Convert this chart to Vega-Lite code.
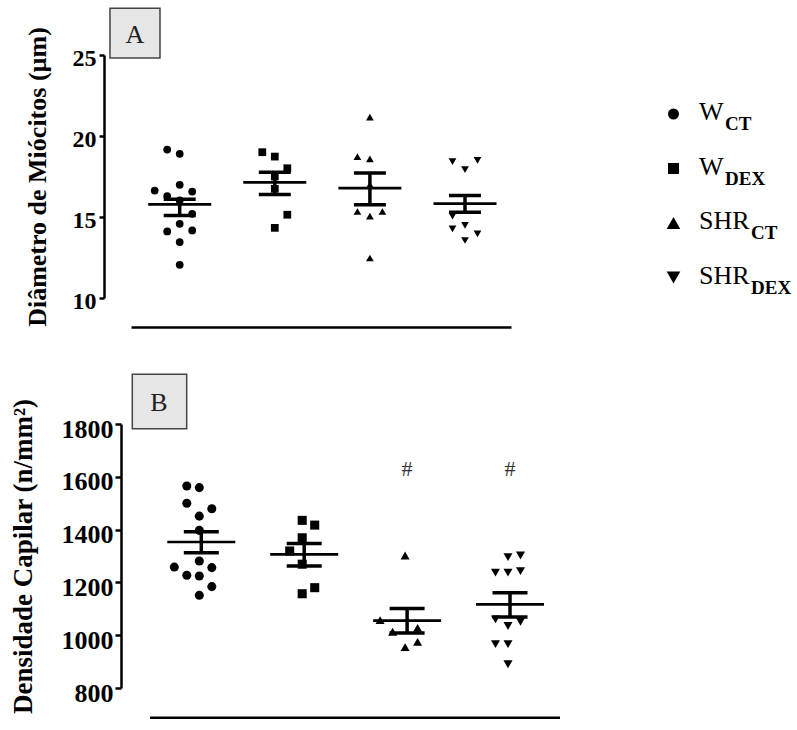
{
  "$schema": "https://vega.github.io/schema/vega-lite/v6.json",
  "padding": {"left": 8, "top": 7, "right": 0, "bottom": 0},
  "background": "white",
  "config": {"view": {"stroke": null}, "font": "Liberation Serif"},
  "datasets": {
    "ptsA": [
      {"group": "WCT", "value": 19.16, "col": -1},
      {"group": "WCT", "value": 18.90, "col": 0},
      {"group": "WCT", "value": 16.63, "col": -2},
      {"group": "WCT", "value": 16.99, "col": 0},
      {"group": "WCT", "value": 16.57, "col": 1},
      {"group": "WCT", "value": 16.29, "col": -1},
      {"group": "WCT", "value": 16.02, "col": 0},
      {"group": "WCT", "value": 15.20, "col": 1},
      {"group": "WCT", "value": 14.58, "col": 0},
      {"group": "WCT", "value": 14.11, "col": -1},
      {"group": "WCT", "value": 14.17, "col": 1},
      {"group": "WCT", "value": 13.45, "col": 0},
      {"group": "WCT", "value": 12.05, "col": 0},
      {"group": "WDEX", "value": 19.00, "col": -1},
      {"group": "WDEX", "value": 18.73, "col": 0},
      {"group": "WDEX", "value": 18.01, "col": 1},
      {"group": "WDEX", "value": 17.50, "col": 0},
      {"group": "WDEX", "value": 16.74, "col": 0},
      {"group": "WDEX", "value": 15.14, "col": 1},
      {"group": "WDEX", "value": 14.33, "col": 0},
      {"group": "SHRCT", "value": 21.16, "col": 0},
      {"group": "SHRCT", "value": 18.73, "col": -1},
      {"group": "SHRCT", "value": 18.59, "col": 0},
      {"group": "SHRCT", "value": 16.99, "col": 0},
      {"group": "SHRCT", "value": 15.34, "col": -1},
      {"group": "SHRCT", "value": 15.06, "col": 0},
      {"group": "SHRCT", "value": 15.34, "col": 1},
      {"group": "SHRCT", "value": 12.47, "col": 0},
      {"group": "SHRDEX", "value": 18.42, "col": -1},
      {"group": "SHRDEX", "value": 18.49, "col": 1},
      {"group": "SHRDEX", "value": 17.93, "col": 0},
      {"group": "SHRDEX", "value": 15.05, "col": -1},
      {"group": "SHRDEX", "value": 14.27, "col": -1},
      {"group": "SHRDEX", "value": 14.48, "col": 0},
      {"group": "SHRDEX", "value": 13.96, "col": 1},
      {"group": "SHRDEX", "value": 13.55, "col": 0}
    ],
    "sumA": [
      {"group": "WCT", "mean": 15.78, "lo": 15.10, "hi": 16.10},
      {"group": "WDEX", "mean": 17.14, "lo": 16.39, "hi": 17.77},
      {"group": "SHRCT", "mean": 16.78, "lo": 15.75, "hi": 17.72},
      {"group": "SHRDEX", "mean": 15.82, "lo": 15.30, "hi": 16.33}
    ],
    "ptsB": [
      {"group": "WCT", "value": 1565, "col": -1},
      {"group": "WCT", "value": 1559, "col": 0},
      {"group": "WCT", "value": 1500, "col": -1},
      {"group": "WCT", "value": 1479, "col": 1},
      {"group": "WCT", "value": 1451, "col": 0},
      {"group": "WCT", "value": 1397, "col": 0},
      {"group": "WCT", "value": 1281, "col": 0},
      {"group": "WCT", "value": 1258, "col": -2},
      {"group": "WCT", "value": 1256, "col": 1},
      {"group": "WCT", "value": 1227, "col": -1},
      {"group": "WCT", "value": 1224, "col": 0},
      {"group": "WCT", "value": 1184, "col": 1},
      {"group": "WCT", "value": 1151, "col": 0},
      {"group": "WDEX", "value": 1435, "col": 0},
      {"group": "WDEX", "value": 1417, "col": 1},
      {"group": "WDEX", "value": 1369, "col": 0},
      {"group": "WDEX", "value": 1319, "col": -1},
      {"group": "WDEX", "value": 1269, "col": 0},
      {"group": "WDEX", "value": 1180, "col": 1},
      {"group": "WDEX", "value": 1157, "col": 0},
      {"group": "SHRCT", "value": 1302, "col": 0},
      {"group": "SHRCT", "value": 1057, "col": -2},
      {"group": "SHRCT", "value": 1013, "col": -1},
      {"group": "SHRCT", "value": 1028, "col": 1},
      {"group": "SHRCT", "value": 955, "col": 0},
      {"group": "SHRCT", "value": 975, "col": 1},
      {"group": "SHRDEX", "value": 1296, "col": 0},
      {"group": "SHRDEX", "value": 1302, "col": 1},
      {"group": "SHRDEX", "value": 1237, "col": -1},
      {"group": "SHRDEX", "value": 1237, "col": 0},
      {"group": "SHRDEX", "value": 1243, "col": 1},
      {"group": "SHRDEX", "value": 1060, "col": -1},
      {"group": "SHRDEX", "value": 1035, "col": 0},
      {"group": "SHRDEX", "value": 1051, "col": 1},
      {"group": "SHRDEX", "value": 966, "col": -1},
      {"group": "SHRDEX", "value": 966, "col": 0},
      {"group": "SHRDEX", "value": 890, "col": 0}
    ],
    "sumB": [
      {"group": "WCT", "mean": 1353, "lo": 1312, "hi": 1392, "sig": ""},
      {"group": "WDEX", "mean": 1306, "lo": 1262, "hi": 1347, "sig": ""},
      {"group": "SHRCT", "mean": 1055, "lo": 1008, "hi": 1101, "sig": "#"},
      {"group": "SHRDEX", "mean": 1117, "lo": 1069, "hi": 1161, "sig": "#"}
    ],
    "legend": [
      {"order": 1, "group": "WCT", "main": "W", "sub": "CT"},
      {"order": 2, "group": "WDEX", "main": "W", "sub": "DEX"},
      {"order": 3, "group": "SHRCT", "main": "SHR", "sub": "CT"},
      {"order": 4, "group": "SHRDEX", "main": "SHR", "sub": "DEX"}
    ]
  },
  "spacing": 46,
  "vconcat": [
    {
      "width": 380,
      "height": 243,
      "layer": [
        {
          "layer": [
            {
              "data": {"name": "ptsA"},
              "mark": {"type": "point", "filled": true, "color": "#000", "opacity": 1, "size": 60, "strokeWidth": 0},
              "encoding": {
                "x": {"field": "group", "type": "nominal", "scale": {"domain": ["WCT", "WDEX", "SHRCT", "SHRDEX"], "paddingInner": 0.3428, "paddingOuter": 0.1693, "align": 0.542}, "axis": {"orient": "bottom", "offset": 29, "domain": true, "domainColor": "#000", "domainWidth": 2.5, "ticks": false, "labels": false, "grid": false, "title": null}},
                "xOffset": {"field": "col", "type": "ordinal", "scale": {"domain": [-2, -1, 0, 1, 2]}},
                "y": {"field": "value", "type": "quantitative", "scale": {"domain": [10, 25], "nice": false, "zero": false}, "axis": {"values": [10, 15, 20, 25], "offset": 27, "tickSize": 5, "tickWidth": 2.5, "tickColor": "#000", "domainColor": "#000", "domainWidth": 2.5, "labelFont": "Liberation Serif", "labelFontSize": 24, "labelFontWeight": "bold", "labelColor": "#000", "labelPadding": 3, "labelOffset": 3, "labelFlush": false, "labelOverlap": false, "grid": false, "title": "Diâmetro de Miócitos (µm)", "titleFont": "Liberation Serif", "titleFontSize": 26, "titleFontWeight": "bold", "titleColor": "#000", "titlePadding": 22}},
                "shape": {"field": "group", "type": "nominal", "scale": {"domain": ["WCT", "WDEX", "SHRCT", "SHRDEX"], "range": ["circle", "square", "triangle-up", "triangle-down"]}, "legend": null}
              }
            },
            {
              "data": {"name": "sumA"},
              "mark": {"type": "rule", "color": "#000", "strokeWidth": 3.5},
              "encoding": {
                "x": {"field": "group", "type": "nominal", "scale": {"domain": ["WCT", "WDEX", "SHRCT", "SHRDEX"], "paddingInner": 0.3428, "paddingOuter": 0.1693, "align": 0.542}, "axis": {"orient": "bottom", "offset": 29, "domain": true, "domainColor": "#000", "domainWidth": 2.5, "ticks": false, "labels": false, "grid": false, "title": null}},
                "y": {"field": "lo", "type": "quantitative", "scale": {"domain": [10, 25], "nice": false, "zero": false}, "title": "Diâmetro de Miócitos (µm)"},
                "y2": {"field": "hi"}
              }
            },
            {
              "data": {"name": "sumA"},
              "mark": {"type": "tick", "color": "#000", "opacity": 1, "size": 63, "thickness": 2.7},
              "encoding": {
                "x": {"field": "group", "type": "nominal", "scale": {"domain": ["WCT", "WDEX", "SHRCT", "SHRDEX"], "paddingInner": 0.3428, "paddingOuter": 0.1693, "align": 0.542}, "axis": {"orient": "bottom", "offset": 29, "domain": true, "domainColor": "#000", "domainWidth": 2.5, "ticks": false, "labels": false, "grid": false, "title": null}},
                "y": {"field": "mean", "type": "quantitative", "scale": {"domain": [10, 25], "nice": false, "zero": false}, "title": "Diâmetro de Miócitos (µm)"}
              }
            },
            {
              "data": {"name": "sumA"},
              "mark": {"type": "tick", "color": "#000", "opacity": 1, "size": 32, "thickness": 3.5},
              "encoding": {
                "x": {"field": "group", "type": "nominal", "scale": {"domain": ["WCT", "WDEX", "SHRCT", "SHRDEX"], "paddingInner": 0.3428, "paddingOuter": 0.1693, "align": 0.542}, "axis": {"orient": "bottom", "offset": 29, "domain": true, "domainColor": "#000", "domainWidth": 2.5, "ticks": false, "labels": false, "grid": false, "title": null}},
                "y": {"field": "lo", "type": "quantitative", "scale": {"domain": [10, 25], "nice": false, "zero": false}, "title": "Diâmetro de Miócitos (µm)"}
              }
            },
            {
              "data": {"name": "sumA"},
              "mark": {"type": "tick", "color": "#000", "opacity": 1, "size": 32, "thickness": 3.5},
              "encoding": {
                "x": {"field": "group", "type": "nominal", "scale": {"domain": ["WCT", "WDEX", "SHRCT", "SHRDEX"], "paddingInner": 0.3428, "paddingOuter": 0.1693, "align": 0.542}, "axis": {"orient": "bottom", "offset": 29, "domain": true, "domainColor": "#000", "domainWidth": 2.5, "ticks": false, "labels": false, "grid": false, "title": null}},
                "y": {"field": "hi", "type": "quantitative", "scale": {"domain": [10, 25], "nice": false, "zero": false}, "title": "Diâmetro de Miócitos (µm)"}
              }
            }
          ]
        },
        {
          "data": {"values": [{"panel": "A"}]},
          "layer": [
            {
              "mark": {"type": "rect", "fill": "#e6e6e6", "stroke": "#444", "strokeWidth": 1.5},
              "encoding": {
                "x": {"datum": -0.0553, "type": "quantitative", "scale": {"domain": [0, 1], "nice": false, "zero": false}, "axis": null},
                "x2": {"datum": 0.0763},
                "y": {"datum": 27.88, "type": "quantitative", "scale": {"domain": [10, 25], "nice": false, "zero": false}, "axis": null},
                "y2": {"datum": 24.82}
              }
            },
            {
              "mark": {"type": "text", "font": "Liberation Serif", "fontSize": 26, "color": "#222", "align": "center", "baseline": "middle"},
              "encoding": {
                "x": {"datum": 0.0105, "type": "quantitative", "scale": {"domain": [0, 1], "nice": false, "zero": false}, "axis": null},
                "y": {"datum": 26.25, "type": "quantitative", "scale": {"domain": [10, 25], "nice": false, "zero": false}, "axis": null},
                "text": {"field": "panel"}
              }
            }
          ]
        },
        {
          "data": {"name": "legend"},
          "layer": [
            {
              "transform": [{"filter": "datum.main == 'W'"}],
              "mark": {"type": "point", "filled": true, "color": "#000", "opacity": 1, "size": 121, "strokeWidth": 0},
              "encoding": {
                "x": {"datum": 1.4276, "type": "quantitative", "scale": {"domain": [0, 1], "nice": false, "zero": false}, "axis": null},
                "y": {"field": "order", "type": "quantitative", "scale": {"domain": [-0.0826, 4.376], "reverse": true, "nice": false, "zero": false}, "axis": null},
                "shape": {"field": "group", "type": "nominal", "scale": {"domain": ["WCT", "WDEX", "SHRCT", "SHRDEX"], "range": ["circle", "square", "triangle-up", "triangle-down"]}, "legend": null}
              }
            },
            {
              "transform": [{"filter": "datum.main == 'SHR'"}],
              "mark": {"type": "point", "filled": true, "color": "#000", "opacity": 1, "size": 185, "strokeWidth": 0},
              "encoding": {
                "x": {"datum": 1.4276, "type": "quantitative", "scale": {"domain": [0, 1], "nice": false, "zero": false}, "axis": null},
                "y": {"field": "order", "type": "quantitative", "scale": {"domain": [-0.0826, 4.376], "reverse": true, "nice": false, "zero": false}, "axis": null},
                "shape": {"field": "group", "type": "nominal", "scale": {"domain": ["WCT", "WDEX", "SHRCT", "SHRDEX"], "range": ["circle", "square", "triangle-up", "triangle-down"]}, "legend": null}
              }
            },
            {
              "mark": {"type": "text", "font": "Liberation Serif", "fontSize": 26, "color": "#000", "align": "left", "baseline": "middle", "dy": -2},
              "encoding": {
                "x": {"datum": 1.4947, "type": "quantitative", "scale": {"domain": [0, 1], "nice": false, "zero": false}, "axis": null},
                "y": {"field": "order", "type": "quantitative", "scale": {"domain": [-0.0826, 4.376], "reverse": true, "nice": false, "zero": false}, "axis": null},
                "text": {"field": "main"}
              }
            },
            {
              "transform": [{"filter": "datum.main == 'W'"}],
              "mark": {"type": "text", "font": "Liberation Serif", "fontSize": 19, "fontWeight": "bold", "color": "#000", "align": "left", "baseline": "middle", "dy": 10},
              "encoding": {
                "x": {"datum": 1.5632, "type": "quantitative", "scale": {"domain": [0, 1], "nice": false, "zero": false}, "axis": null},
                "y": {"field": "order", "type": "quantitative", "scale": {"domain": [-0.0826, 4.376], "reverse": true, "nice": false, "zero": false}, "axis": null},
                "text": {"field": "sub"}
              }
            },
            {
              "transform": [{"filter": "datum.main == 'SHR'"}],
              "mark": {"type": "text", "font": "Liberation Serif", "fontSize": 19, "fontWeight": "bold", "color": "#000", "align": "left", "baseline": "middle", "dy": 10},
              "encoding": {
                "x": {"datum": 1.6316, "type": "quantitative", "scale": {"domain": [0, 1], "nice": false, "zero": false}, "axis": null},
                "y": {"field": "order", "type": "quantitative", "scale": {"domain": [-0.0826, 4.376], "reverse": true, "nice": false, "zero": false}, "axis": null},
                "text": {"field": "sub"}
              }
            }
          ]
        }
      ],
      "resolve": {"scale": {"x": "independent", "y": "independent"}, "axis": {"x": "independent", "y": "independent"}}
    },
    {
      "width": 429,
      "height": 264,
      "layer": [
        {
          "layer": [
            {
              "data": {"name": "ptsB"},
              "mark": {"type": "point", "filled": true, "color": "#000", "opacity": 1, "size": 82, "strokeWidth": 0},
              "encoding": {
                "x": {"field": "group", "type": "nominal", "scale": {"domain": ["WCT", "WDEX", "SHRCT", "SHRDEX"], "paddingInner": 0.3537, "paddingOuter": 0.2614, "align": 0.6887}, "axis": null},
                "xOffset": {"field": "col", "type": "ordinal", "scale": {"domain": [-2, -1, 0, 1, 2]}},
                "y": {"field": "value", "type": "quantitative", "scale": {"domain": [800, 1800], "nice": false, "zero": false}, "axis": {"values": [800, 1000, 1200, 1400, 1600, 1800], "format": "d", "offset": 10, "tickSize": 6, "tickWidth": 2.5, "tickColor": "#000", "domainColor": "#000", "domainWidth": 2.5, "labelFont": "Liberation Serif", "labelFontSize": 26, "labelFontWeight": "bold", "labelColor": "#000", "labelPadding": 2, "labelOffset": 5, "labelFlush": false, "labelOverlap": false, "grid": false, "title": "Densidade Capilar (n/mm²)", "titleFont": "Liberation Serif", "titleFontSize": 27, "titleFontWeight": "bold", "titleColor": "#000", "titlePadding": 24}},
                "shape": {"field": "group", "type": "nominal", "scale": {"domain": ["WCT", "WDEX", "SHRCT", "SHRDEX"], "range": ["circle", "square", "triangle-up", "triangle-down"]}, "legend": null}
              }
            },
            {
              "data": {"name": "sumB"},
              "mark": {"type": "rule", "color": "#000", "strokeWidth": 3.5},
              "encoding": {
                "x": {"field": "group", "type": "nominal", "scale": {"domain": ["WCT", "WDEX", "SHRCT", "SHRDEX"], "paddingInner": 0.3537, "paddingOuter": 0.2614, "align": 0.6887}, "axis": null},
                "y": {"field": "lo", "type": "quantitative", "scale": {"domain": [800, 1800], "nice": false, "zero": false}, "title": "Densidade Capilar (n/mm²)"},
                "y2": {"field": "hi"}
              }
            },
            {
              "data": {"name": "sumB"},
              "mark": {"type": "tick", "color": "#000", "opacity": 1, "size": 68, "thickness": 2.7},
              "encoding": {
                "x": {"field": "group", "type": "nominal", "scale": {"domain": ["WCT", "WDEX", "SHRCT", "SHRDEX"], "paddingInner": 0.3537, "paddingOuter": 0.2614, "align": 0.6887}, "axis": null},
                "y": {"field": "mean", "type": "quantitative", "scale": {"domain": [800, 1800], "nice": false, "zero": false}, "title": "Densidade Capilar (n/mm²)"}
              }
            },
            {
              "data": {"name": "sumB"},
              "mark": {"type": "tick", "color": "#000", "opacity": 1, "size": 35, "thickness": 3.5},
              "encoding": {
                "x": {"field": "group", "type": "nominal", "scale": {"domain": ["WCT", "WDEX", "SHRCT", "SHRDEX"], "paddingInner": 0.3537, "paddingOuter": 0.2614, "align": 0.6887}, "axis": null},
                "y": {"field": "lo", "type": "quantitative", "scale": {"domain": [800, 1800], "nice": false, "zero": false}, "title": "Densidade Capilar (n/mm²)"}
              }
            },
            {
              "data": {"name": "sumB"},
              "mark": {"type": "tick", "color": "#000", "opacity": 1, "size": 35, "thickness": 3.5},
              "encoding": {
                "x": {"field": "group", "type": "nominal", "scale": {"domain": ["WCT", "WDEX", "SHRCT", "SHRDEX"], "paddingInner": 0.3537, "paddingOuter": 0.2614, "align": 0.6887}, "axis": null},
                "y": {"field": "hi", "type": "quantitative", "scale": {"domain": [800, 1800], "nice": false, "zero": false}, "title": "Densidade Capilar (n/mm²)"}
              }
            },
            {
              "data": {"name": "sumB"},
              "transform": [{"filter": "datum.sig != ''"}],
              "mark": {"type": "text", "font": "Liberation Serif", "fontSize": 22, "color": "#333", "align": "center", "baseline": "middle"},
              "encoding": {
                "x": {"field": "group", "type": "nominal", "scale": {"domain": ["WCT", "WDEX", "SHRCT", "SHRDEX"], "paddingInner": 0.3537, "paddingOuter": 0.2614, "align": 0.6887}, "axis": null},
                "y": {"datum": 1628, "type": "quantitative", "scale": {"domain": [800, 1800], "nice": false, "zero": false}, "title": "Densidade Capilar (n/mm²)"},
                "text": {"field": "sig"}
              }
            }
          ]
        },
        {
          "data": {"values": [{"panel": "B"}]},
          "layer": [
            {
              "mark": {"type": "rect", "fill": "#e6e6e6", "stroke": "#444", "strokeWidth": 1.5},
              "encoding": {
                "x": {"datum": 0.003, "type": "quantitative", "scale": {"domain": [0, 1], "nice": false, "zero": false}, "axis": null},
                "x2": {"datum": 0.1298},
                "y": {"datum": 1988, "type": "quantitative", "scale": {"domain": [800, 1800], "nice": false, "zero": false}, "axis": null},
                "y2": {"datum": 1782}
              }
            },
            {
              "mark": {"type": "text", "font": "Liberation Serif", "fontSize": 26, "color": "#222", "align": "center", "baseline": "middle"},
              "encoding": {
                "x": {"datum": 0.0653, "type": "quantitative", "scale": {"domain": [0, 1], "nice": false, "zero": false}, "axis": null},
                "y": {"datum": 1880, "type": "quantitative", "scale": {"domain": [800, 1800], "nice": false, "zero": false}, "axis": null},
                "text": {"field": "panel"}
              }
            },
            {
              "mark": {"type": "rule", "color": "#000", "strokeWidth": 2.5},
              "encoding": {
                "x": {"datum": 0.0443, "type": "quantitative", "scale": {"domain": [0, 1], "nice": false, "zero": false}, "axis": null},
                "x2": {"datum": 1},
                "y": {"datum": 687.5, "type": "quantitative", "scale": {"domain": [800, 1800], "nice": false, "zero": false}, "axis": null}
              }
            }
          ]
        }
      ],
      "resolve": {"scale": {"x": "independent", "y": "independent"}, "axis": {"x": "independent", "y": "independent"}}
    }
  ]
}
